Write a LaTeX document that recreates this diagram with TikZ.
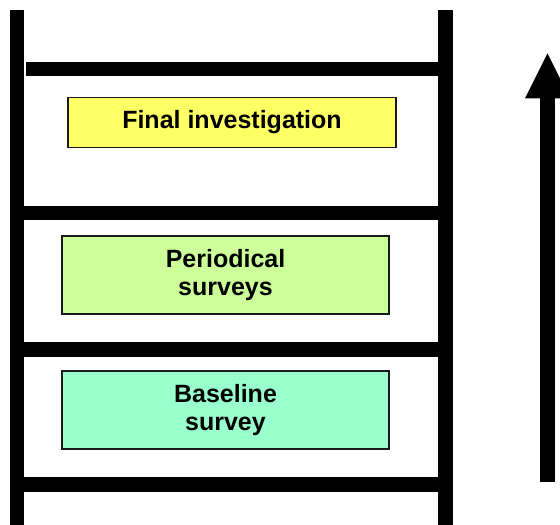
\documentclass[tikz,border=0pt]{standalone}
\usepackage{fontspec}
\setmainfont{Liberation Sans}
\begin{document}
\begin{tikzpicture}[x=1bp,y=-1bp,
  bar/.style={fill=black,draw=none},
  stagebox/.style={draw=black!90,line width=1.1bp,inner sep=0pt,align=center,
    text=black,font=\fontsize{25bp}{28.5bp}\selectfont\bfseries},
]
\useasboundingbox (0,0) rectangle (560,525);
\clip (0,0) rectangle (560,525);
% ladder posts
\fill[bar] (9.5,10) rectangle (24.2,525);
\fill[bar] (438,10) rectangle (452.5,525);
% rungs
\fill[bar] (26,62) rectangle (438,76.3);
\fill[bar] (24,205.8) rectangle (438,220.2);
\fill[bar] (24,341.7) rectangle (438,356.5);
\fill[bar] (24,476.7) rectangle (438,491.5);
% stage boxes
\node[stagebox,fill={rgb,255:red,255;green,255;blue,102},minimum width=328bp,minimum height=50bp] (final) at (232,122.5) {Final investigation};
\node[stagebox,fill={rgb,255:red,204;green,255;blue,153},minimum width=327bp,minimum height=78bp] (periodical) at (225.5,275) {Periodical\\surveys};
\node[stagebox,fill={rgb,255:red,153;green,255;blue,204},minimum width=327bp,minimum height=78bp] (baseline) at (225.5,410) {Baseline\\survey};
% upward arrow
\fill[bar] (540,98) rectangle (555,482);
\fill[bar] (525,98.3) -- (547.5,53.3) -- (570,98.3) -- cycle;
\end{tikzpicture}
\end{document}
